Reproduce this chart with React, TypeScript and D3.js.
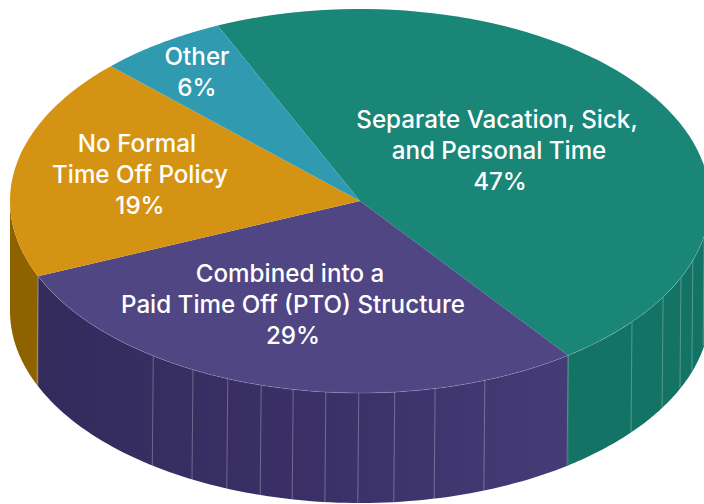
import React from "react";
import * as d3 from "d3";

const categories = ["Separate Vacation, Sick, and Personal Time", "Combined into a Paid Time Off (PTO) Structure", "No Formal Time Off Policy", "Other"];
const shares = [47, 29, 19, 6];
const topColors = ["#1a8677", "#4f4683", "#d59313", "#309ab0"];
const sideColors = ["#137365", "url(#ptoSide)", "#8f6200", "#26808f"];
const facetAngles = [216.2, 208.5, 202.2, 196.4, 191, 185.6, 180.2, 174.3, 167.6, 159.1, 129, 120, 113.5, 108, 100.5];
const labelLines = [
  ["Separate Vacation, Sick,", 497, 128],
  ["and Personal Time", 499, 159],
  ["47%", 500, 190],
  ["Combined into a", 290, 282],
  ["Paid Time Off (PTO) Structure", 293, 313],
  ["29%", 293, 344],
  ["No Formal", 137, 152],
  ["Time Off Policy", 140, 183],
  ["19%", 140, 214],
  ["Other", 197, 65],
  ["6%", 197, 96],
] as [string, number, number][];

const cx = 360, cy = 201, rx = 350, ry = 192, depth = 110;
const x = d3.scaleLinear().domain([-1, 1]).range([cx - rx, cx + rx]);
const y = d3.scaleLinear().domain([-1, 1]).range([cy - ry, cy + ry]);
const rad = (d: number) => (d * Math.PI) / 180;
const px = (a: number) => x(Math.sin(a));
const py = (a: number) => y(-Math.cos(a));

const start = rad(-24);
const pie = d3.pie<number>().sort(null).startAngle(start).endAngle(start + Math.PI * 2);
const slices = pie(shares);

const samples = (a0: number, a1: number) => {
  const n = 80;
  return d3.range(n + 1).map((i) => a0 + ((a1 - a0) * i) / n);
};
const sidePath = d3.area<number>().x(px).y0(py).y1((a) => py(a) + depth);
const rim = d3.line<number>().x(px).y(py);
const topPath = (a0: number, a1: number) =>
  `M${cx},${cy}L` + samples(a0, a1).map((a) => `${px(a)},${py(a)}`).join("L") + "Z";

export default function App() {
  const low = rad(90), high = rad(270);
  return (
    <svg width={704} height={504} style={{ position: "absolute", left: 0, top: 0, background: "#fff" }}>
      <defs>
        <linearGradient id="ptoSide" gradientUnits="userSpaceOnUse" x1={40} x2={568} y1={0} y2={0}>
          <stop offset="0" stopColor="#332b5c" />
          <stop offset="0.5" stopColor="#3a3067" />
          <stop offset="1" stopColor="#453b76" />
        </linearGradient>
      </defs>
      {slices.map((s, i) => {
        const a0 = Math.max(s.startAngle, low), a1 = Math.min(s.endAngle, high);
        if (a1 <= a0) return null;
        return <path key={i} d={sidePath(samples(a0, a1)) as string} fill={sideColors[i]} />;
      })}
      {facetAngles.map((d) => {
        const a = rad(d);
        return (
          <line key={d} x1={px(a)} y1={py(a)} x2={px(a) - 1} y2={py(a) + depth}
            stroke="#fff" strokeOpacity={0.28} strokeWidth={1} />
        );
      })}
      {slices.slice(0, 2).map((s) => {
        const a = s.endAngle;
        return (
          <line key={a} x1={px(a)} y1={py(a)} x2={px(a) - 1} y2={py(a) + depth}
            stroke="#fff" strokeOpacity={0.3} strokeWidth={1} />
        );
      })}
      {slices.map((s, i) => (
        <path key={i} d={topPath(s.startAngle, s.endAngle)} fill={topColors[i]} />
      ))}
      <path d={rim(samples(rad(97), rad(247))) as string} fill="none" stroke="#fff" strokeOpacity={0.2} strokeWidth={0.8} />
      <g fill="#fff" fontFamily="Inter" fontSize={24.2} fontWeight={500} textAnchor="middle">
        {labelLines.map(([t, lx, ly]) => (
          <text key={t} x={lx} y={ly}>{t}</text>
        ))}
      </g>
    </svg>
  );
}
